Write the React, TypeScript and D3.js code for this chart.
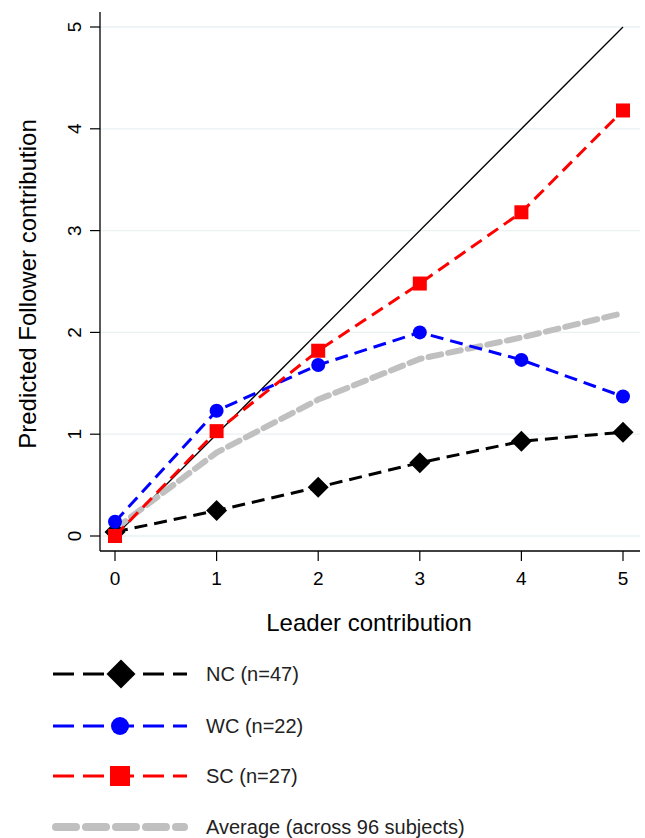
import React from "react";
import * as d3 from "d3";

const xs = [0, 1, 2, 3, 4, 5];
const ncValues = [0.04, 0.25, 0.48, 0.72, 0.93, 1.02];
const wcValues = [0.14, 1.23, 1.68, 2.0, 1.73, 1.37];
const scValues = [0.0, 1.03, 1.82, 2.48, 3.18, 4.18];
const avgValues = [0.07, 0.82, 1.34, 1.74, 1.95, 2.19];
const xTicks = [0, 1, 2, 3, 4, 5];
const yTicks = [0, 1, 2, 3, 4, 5];
const legendLabels = ["NC (n=47)", "WC (n=22)", "SC (n=27)", "Average (across 96 subjects)"];

const W = 645;
const H = 838;

export default function App() {
  const x = d3.scaleLinear().domain([0, 5]).range([115, 623]);
  const y = d3.scaleLinear().domain([0, 5]).range([536, 27]);
  const line = d3
    .line<number>()
    .x((_, i) => x(xs[i]))
    .y((d) => y(d));

  const font = "'Liberation Sans', Arial, sans-serif";

  const diamond = (cx: number, cy: number, s: number) =>
    `M${cx},${cy - s} L${cx + s},${cy} L${cx},${cy + s} L${cx - s},${cy} Z`;

  const legendY = [674, 726, 776, 827];

  return (
    <svg
      width={W}
      height={H}
      style={{ position: "absolute", left: 0, top: 0, background: "#fff" }}
      fontFamily={font}
    >
      <rect x={0} y={0} width={W} height={H} fill="#fff" />
      {/* gridlines */}
      {yTicks.map((t) => (
        <line key={"g" + t} x1={100} x2={640} y1={y(t)} y2={y(t)} stroke="#eaf2f3" strokeWidth={1.3} />
      ))}
      {/* axes */}
      <line x1={100} x2={100} y1={12} y2={551} stroke="#000" strokeWidth={1.3} />
      <line x1={100} x2={640} y1={551} y2={551} stroke="#000" strokeWidth={1.3} />
      {yTicks.map((t) => (
        <g key={"yt" + t}>
          <line x1={90} x2={100} y1={y(t)} y2={y(t)} stroke="#000" strokeWidth={1.2} />
          <text
            transform={`translate(81,${y(t)}) rotate(-90)`}
            textAnchor="middle"
            fontSize={19}
            fill="#000"
          >
            {t}
          </text>
        </g>
      ))}
      {xTicks.map((t) => (
        <g key={"xt" + t}>
          <line x1={x(t)} x2={x(t)} y1={551} y2={561} stroke="#000" strokeWidth={1.2} />
          <text x={x(t)} y={585} textAnchor="middle" fontSize={19} fill="#000">
            {t}
          </text>
        </g>
      ))}
      <text x={369} y={631} textAnchor="middle" fontSize={24} fill="#000">
        Leader contribution
      </text>
      <text transform={`translate(36,284) rotate(-90)`} textAnchor="middle" fontSize={24} fill="#000">
        Predicted Follower contribution
      </text>

      {/* identity line */}
      <line x1={x(0)} y1={y(0)} x2={x(5)} y2={y(5)} stroke="#000" strokeWidth={1.3} />

      {/* average */}
      <path d={line(avgValues) || ""} fill="none" stroke="#c0c0c0" strokeWidth={6} strokeDasharray="13 7" strokeLinecap="round" />

      {/* NC */}
      <path d={line(ncValues) || ""} fill="none" stroke="#000" strokeWidth={3} strokeDasharray="13 7" />
      {ncValues.map((v, i) => (
        <path key={"nc" + i} d={diamond(x(xs[i]), y(v), 10.5)} fill="#000" />
      ))}
      {/* WC */}
      <path d={line(wcValues) || ""} fill="none" stroke="#0000ff" strokeWidth={3} strokeDasharray="13 7" />
      {wcValues.map((v, i) => (
        <circle key={"wc" + i} cx={x(xs[i])} cy={y(v)} r={7} fill="#0000ff" />
      ))}
      {/* SC */}
      <path d={line(scValues) || ""} fill="none" stroke="#ff0000" strokeWidth={3} strokeDasharray="13 7" />
      {scValues.map((v, i) => (
        <rect key={"sc" + i} x={x(xs[i]) - 7} y={y(v) - 7} width={14} height={14} fill="#ff0000" />
      ))}

      {/* legend */}
      {[
        { c: "#000", m: "d" },
        { c: "#0000ff", m: "c" },
        { c: "#ff0000", m: "s" },
      ].map((s, i) => (
        <g key={"lg" + i}>
          <line x1={53} x2={187} y1={legendY[i]} y2={legendY[i]} stroke={s.c} strokeWidth={3} strokeDasharray="21 9" />
          {s.m === "d" && <path d={diamond(121, legendY[i], 14.5)} fill={s.c} />}
          {s.m === "c" && <circle cx={120} cy={legendY[i]} r={9} fill={s.c} />}
          {s.m === "s" && <rect x={110} y={legendY[i] - 10} width={20} height={20} fill={s.c} />}
          <text x={206} y={legendY[i] + 7} fontSize={20} fill="#222">
            {legendLabels[i]}
          </text>
        </g>
      ))}
      <line x1={56} x2={184} y1={legendY[3]} y2={legendY[3]} stroke="#c0c0c0" strokeWidth={8} strokeDasharray="20 10" strokeLinecap="round" />
      <text x={206} y={legendY[3] + 7} fontSize={20} fill="#222">
        {legendLabels[3]}
      </text>
    </svg>
  );
}
